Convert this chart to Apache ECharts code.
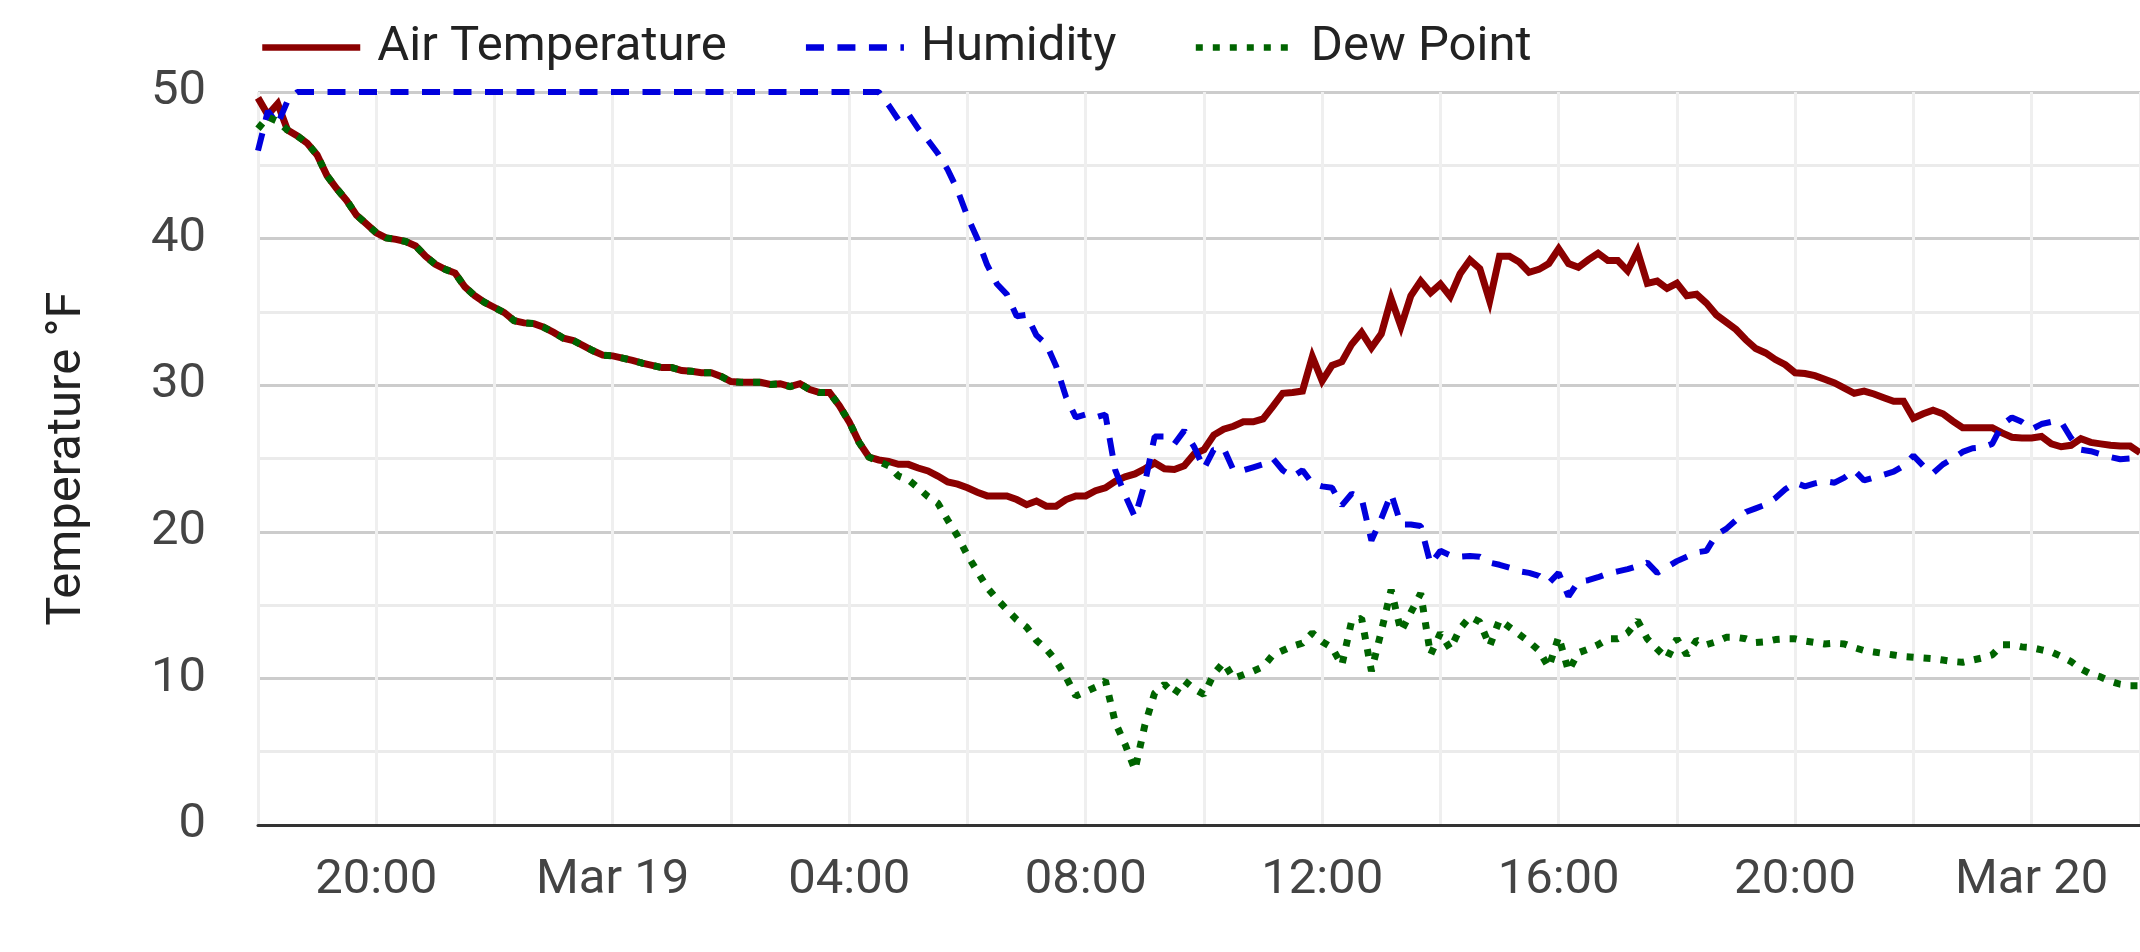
<!DOCTYPE html>
<html>
<head>
<meta charset="utf-8">
<script src="https://cdn.jsdelivr.net/npm/echarts@6/dist/echarts.min.js"></script>
<style>
  html, body { margin: 0; padding: 0; background: #ffffff; }
  #chart { width: 2140px; height: 952px; }
</style>
</head>
<body>
<div id="chart"></div>
<script>
// Sampling: one reading every 10 minutes starting Mar 18, 18:00
const startTime = Date.UTC(2024, 2, 18, 18, 0);
const stepMinutes = 10;

const seriesNames = ['Air Temperature', 'Humidity', 'Dew Point'];

const airTemperature = [
  49.6, 48.45, 49.2, 47.4, 47.0, 46.5, 45.7, 44.3, 43.4, 42.6,
  41.6, 41.0, 40.4, 40.05, 39.95, 39.8, 39.5, 38.8, 38.25, 37.9,
  37.65, 36.7, 36.1, 35.65, 35.3, 34.95, 34.4, 34.25, 34.2, 33.95,
  33.6, 33.2, 33.05, 32.7, 32.35, 32.05, 32.0, 31.85, 31.7, 31.5,
  31.35, 31.2, 31.2, 31.0, 30.95, 30.85, 30.85, 30.6, 30.25, 30.2,
  30.2, 30.2, 30.05, 30.1, 29.9, 30.1, 29.7, 29.5, 29.5, 28.6,
  27.5, 26.1, 25.1, 24.9, 24.8, 24.6, 24.6, 24.35, 24.15, 23.8,
  23.4, 23.25, 23.0, 22.7, 22.45, 22.45, 22.45, 22.2, 21.85, 22.1,
  21.75, 21.75, 22.2, 22.45, 22.45, 22.8, 23.0, 23.45, 23.75, 23.95,
  24.3, 24.7, 24.3, 24.25, 24.5, 25.3, 25.6, 26.6, 27.0, 27.2,
  27.5, 27.5, 27.7, 28.55, 29.45, 29.5, 29.6, 31.95, 30.3, 31.35,
  31.6, 32.8, 33.6, 32.55, 33.5, 35.9, 34.0, 36.1, 37.1, 36.3,
  36.9, 36.05, 37.6, 38.55, 37.95, 35.75, 38.8, 38.8, 38.4, 37.7,
  37.9, 38.3, 39.3, 38.3, 38.05, 38.55, 39.0, 38.5, 38.5, 37.8,
  39.15, 36.95, 37.1, 36.6, 36.95, 36.1, 36.2, 35.6, 34.8, 34.3,
  33.8, 33.1, 32.5, 32.2, 31.75, 31.4, 30.85, 30.8, 30.65, 30.4,
  30.15, 29.8, 29.45, 29.6, 29.4, 29.15, 28.9, 28.9, 27.75, 28.05,
  28.3, 28.05, 27.55, 27.1, 27.1, 27.1, 27.1, 26.75, 26.45, 26.4,
  26.4, 26.5, 26.0, 25.8, 25.9, 26.35, 26.1, 26.0, 25.9, 25.85,
  25.85, 25.4
];

const humidity = [
  46.0, 48.7, 47.8, 49.4, 50, 50, 50, 50, 50, 50,
  50, 50, 50, 50, 50, 50, 50, 50, 50, 50,
  50, 50, 50, 50, 50, 50, 50, 50, 50, 50,
  50, 50, 50, 50, 50, 50, 50, 50, 50, 50,
  50, 50, 50, 50, 50, 50, 50, 50, 50, 50,
  50, 50, 50, 50, 50, 50, 50, 50, 50, 50,
  50, 50, 50, 50, 49.1, 48.1, 48.5, 47.5, 46.7, 45.8,
  44.7, 43.3, 41.5, 40.0, 38.2, 36.9, 36.2, 34.7, 34.8, 33.4,
  32.8, 31.3, 29.2, 27.8, 28.0, 27.8, 28.0, 24.2, 22.5, 21.0,
  23.3, 26.5, 26.5, 26.0, 26.9, 25.8, 24.3, 25.6, 25.7, 24.2,
  24.2, 24.4, 24.6, 25.0, 24.2, 23.75, 24.2, 23.3, 23.1, 23.0,
  21.8, 22.6, 22.3, 19.4, 20.9, 22.6, 20.5, 20.5, 20.4, 17.8,
  18.7, 18.4, 18.3, 18.35, 18.3, 17.9, 17.75, 17.55, 17.3, 17.2,
  17.0, 16.5, 17.2, 15.6, 16.6, 16.7, 16.9, 17.15, 17.3, 17.45,
  17.65, 17.9, 17.2, 17.6, 18.0, 18.3, 18.6, 18.7, 19.8, 20.2,
  20.8, 21.35, 21.6, 21.85, 22.3, 22.9, 23.35, 23.1, 23.3, 23.45,
  23.35, 23.7, 24.2, 23.5, 23.7, 23.9, 24.1, 24.5, 25.2, 24.5,
  24.0, 24.6, 25.0, 25.45, 25.7, 25.75, 26.0, 27.3, 27.8, 27.5,
  27.0, 27.35, 27.5, 27.5, 26.4, 25.6, 25.5, 25.3, 25.1, 24.95,
  25.0, 25.5
];

const dewPoint = [
  47.5, 48.3, 48.0, 47.4, 47.0, 46.5, 45.7, 44.3, 43.4, 42.6,
  41.6, 41.0, 40.4, 40.05, 39.95, 39.8, 39.5, 38.8, 38.25, 37.9,
  37.65, 36.7, 36.1, 35.65, 35.3, 34.95, 34.4, 34.25, 34.2, 33.95,
  33.6, 33.2, 33.05, 32.7, 32.35, 32.05, 32.0, 31.85, 31.7, 31.5,
  31.35, 31.2, 31.2, 31.0, 30.95, 30.85, 30.85, 30.6, 30.25, 30.2,
  30.2, 30.2, 30.05, 30.1, 29.9, 30.1, 29.7, 29.5, 29.5, 28.6,
  27.5, 26.1, 25.1, 24.8, 24.5, 23.8, 23.55, 23.0, 22.4, 21.95,
  20.8, 19.7, 18.4, 17.3, 16.2, 15.4, 14.7, 14.0, 13.5, 12.6,
  12.0, 11.2, 10.1, 8.8, 9.1, 9.4, 9.85, 7.0, 5.5, 3.75,
  6.8, 9.0, 9.6, 8.9, 9.85, 9.3, 8.9, 10.3, 11.1, 10.0,
  10.25, 10.5, 10.8, 11.6, 11.9, 12.2, 12.4, 13.1, 12.5, 12.1,
  10.9, 13.95, 14.1, 10.5, 13.2, 16.05, 13.2, 14.5, 15.8, 11.6,
  13.1, 12.0, 13.4, 14.2, 13.85, 12.2, 14.0, 13.5, 13.0, 12.5,
  11.9, 10.75, 12.85, 10.5, 11.75, 12.0, 12.3, 12.7, 12.7, 13.1,
  13.95, 12.7, 12.0, 11.35, 12.7, 11.6, 12.6, 12.3, 12.5, 12.8,
  12.8, 12.7, 12.45, 12.5, 12.65, 12.7, 12.7, 12.55, 12.45, 12.35,
  12.4, 12.35, 12.1, 11.9, 11.8, 11.7, 11.6, 11.5, 11.45, 11.4,
  11.35, 11.25, 11.15, 11.1, 11.25, 11.4, 11.6, 12.3, 12.3, 12.15,
  12.1, 11.95, 11.8, 11.5, 11.15, 10.65, 10.3, 10.1, 9.8, 9.6,
  9.5, 9.5
];

const yAxisTitle = 'Temperature °F';
const monthNames = ['Jan','Feb','Mar','Apr','May','Jun','Jul','Aug','Sep','Oct','Nov','Dec'];

const times = airTemperature.map((_, i) => startTime + i * stepMinutes * 60000);
const pair = arr => arr.map((v, i) => [times[i], v]);

const FONT = 'Roboto, "Noto Sans", sans-serif';
const FS = 49;

const chart = echarts.init(document.getElementById('chart'), null, { renderer: 'canvas' });
chart.setOption({
  backgroundColor: '#ffffff',
  animation: false,
  textStyle: { fontFamily: FONT },
  legend: {
    top: 18,
    left: 254,
    itemWidth: 98,
    itemHeight: 10,
    itemGap: 76,
    itemStyle: { opacity: 0 },
    lineStyle: { width: 6.5, cap: 'butt' },
    textStyle: { fontSize: FS, color: '#222222', fontFamily: FONT, padding: [0, 0, 0, 12] },
    data: seriesNames
  },
  grid: { left: 258, right: 0, top: 92, bottom: 127, containLabel: false },
  xAxis: {
    type: 'value',
    min: times[0],
    max: times[times.length - 1],
    interval: 2 * 3600000,
    axisLine: { show: true, lineStyle: { color: '#333333', width: 3 } },
    axisTick: { show: false },
    splitLine: { show: true, lineStyle: { color: '#efefef', width: 3 } },
    axisLabel: {
      show: true,
      margin: 31,
      fontSize: FS,
      color: '#444444',
      fontFamily: FONT,
      showMinLabel: false,
      showMaxLabel: false,
      formatter: function (v) {
        const d = new Date(v);
        const h = d.getUTCHours();
        if (d.getUTCMinutes() !== 0 || h % 4 !== 0) return '';
        if (h === 0) return monthNames[d.getUTCMonth()] + ' ' + d.getUTCDate();
        return (h < 10 ? '0' : '') + h + ':00';
      }
    }
  },
  yAxis: {
    type: 'value',
    min: 0,
    max: 50,
    interval: 10,
    name: yAxisTitle,
    nameLocation: 'middle',
    nameRotate: 90,
    nameGap: 166,
    nameTextStyle: { fontSize: FS, color: '#222222', fontFamily: FONT },
    axisLine: { show: false },
    axisTick: { show: false },
    axisLabel: { fontSize: FS, color: '#444444', margin: 52, fontFamily: FONT },
    splitLine: { show: true, lineStyle: { color: '#cccccc', width: 3 } },
    minorTick: { show: false, splitNumber: 2 },
    minorSplitLine: { show: true, lineStyle: { color: '#ebebeb', width: 3 } }
  },
  series: [
    {
      name: seriesNames[0],
      type: 'line',
      data: pair(airTemperature),
      showSymbol: false,
      symbol: 'none',
      lineStyle: { color: '#8b0000', width: 7, join: 'miter' },
      itemStyle: { color: '#8b0000' },
      z: 2
    },
    {
      name: seriesNames[1],
      type: 'line',
      data: pair(humidity),
      showSymbol: false,
      symbol: 'none',
      lineStyle: { color: '#0000dd', width: 6, type: [18, 13.5], cap: 'butt' },
      itemStyle: { color: '#0000dd' },
      z: 3
    },
    {
      name: seriesNames[2],
      type: 'line',
      data: pair(dewPoint),
      showSymbol: false,
      symbol: 'none',
      lineStyle: { color: '#006400', width: 7, type: [7, 10], cap: 'butt' },
      itemStyle: { color: '#006400' },
      z: 4
    }
  ]
});
</script>
</body>
</html>
